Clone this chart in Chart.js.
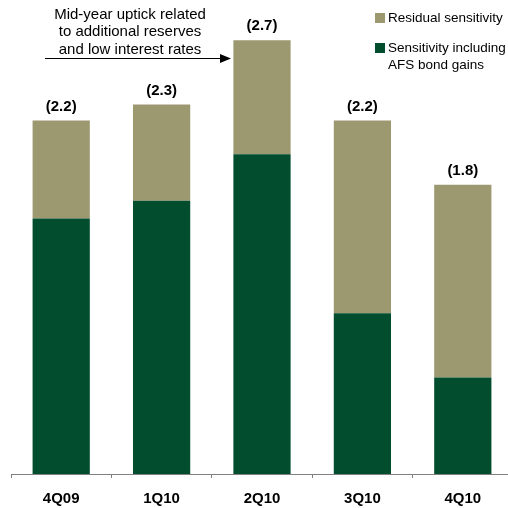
<!DOCTYPE html>
<html>
<head>
<meta charset="utf-8">
<script src="https://cdn.jsdelivr.net/npm/chart.js@4"></script>
<style>
html,body{margin:0;padding:0;background:#fff;overflow:hidden;}
#wrap{width:514px;height:520px;position:relative;}
</style>
</head>
<body>
<div id="wrap"><canvas id="c" width="514" height="520"></canvas></div>
<script>
const categories = ['4Q09', '1Q10', '2Q10', '3Q10', '4Q10'];
const afsValues = [1.59, 1.70, 1.99, 1.00, 0.60];
const residualValues = [0.61, 0.60, 0.71, 1.20, 1.20];
const totalLabels = ['(2.2)', '(2.3)', '(2.7)', '(2.2)', '(1.8)'];
const seriesNames = ['Residual sensitivity', ['Sensitivity including', 'AFS bond gains']];
const annotationLines = ['Mid-year uptick related', 'to additional reserves', 'and low interest rates'];

const DARK = '#024D2E';
const KHAKI = '#9C9870';
const FONT = "Arial, 'Liberation Sans', sans-serif";

const overlay = {
  id: 'overlay',
  afterDatasetsDraw(chart) {
    const ctx = chart.ctx;
    const y = chart.scales.y;
    const x = chart.scales.x;
    ctx.save();
    // totals
    ctx.fillStyle = '#000';
    ctx.font = 'bold 15px ' + FONT;
    ctx.textAlign = 'center';
    ctx.textBaseline = 'middle';
    categories.forEach((c, i) => {
      const tot = afsValues[i] + residualValues[i];
      ctx.fillText(totalLabels[i], x.getPixelForValue(i), y.getPixelForValue(tot) - 14);
    });
    // annotation
    ctx.font = '15px ' + FONT;
    annotationLines.forEach((t, i) => ctx.fillText(t, 130, 14.5 + i * 17.5));
    ctx.strokeStyle = '#000';
    ctx.lineWidth = 1.2;
    ctx.beginPath();
    ctx.moveTo(45, 58.5);
    ctx.lineTo(222, 58.5);
    ctx.stroke();
    ctx.beginPath();
    ctx.moveTo(231, 58.5);
    ctx.lineTo(220, 54);
    ctx.lineTo(220, 63);
    ctx.closePath();
    ctx.fill();
    // legend
    ctx.font = '13.5px ' + FONT;
    ctx.textAlign = 'left';
    ctx.fillStyle = KHAKI;
    ctx.fillRect(375, 13, 10, 10);
    ctx.fillStyle = DARK;
    ctx.fillRect(375, 43, 10, 10);
    ctx.fillStyle = '#000';
    ctx.fillText(seriesNames[0], 388, 18);
    ctx.fillText(seriesNames[1][0], 388, 48);
    ctx.fillText(seriesNames[1][1], 388, 65);
    ctx.restore();
  }
};

new Chart(document.getElementById('c'), {
  type: 'bar',
  data: {
    labels: categories,
    datasets: [
      { label: 'Sensitivity including AFS bond gains', data: afsValues, backgroundColor: DARK, borderWidth: 0 },
      { label: 'Residual sensitivity', data: residualValues, backgroundColor: KHAKI, borderWidth: 0 }
    ]
  },
  options: {
    responsive: false,
    animation: false,
    devicePixelRatio: 1,
    layout: { padding: { left: 11, right: 1, top: 8, bottom: 0 } },
    datasets: { bar: { categoryPercentage: 1, barPercentage: 0.57 } },
    plugins: { legend: { display: false }, tooltip: { enabled: false } },
    scales: {
      x: {
        stacked: true,
        grid: { display: true, drawOnChartArea: false, drawTicks: true, tickLength: 4, color: '#808080', offset: true },
        border: { display: true, color: '#808080', width: 1 },
        ticks: { color: '#000', font: { family: FONT, size: 15, weight: 'bold' }, padding: 12 }
      },
      y: {
        stacked: true,
        display: false,
        min: 0,
        max: 2.9
      }
    }
  },
  plugins: [overlay]
});
</script>
</body>
</html>
